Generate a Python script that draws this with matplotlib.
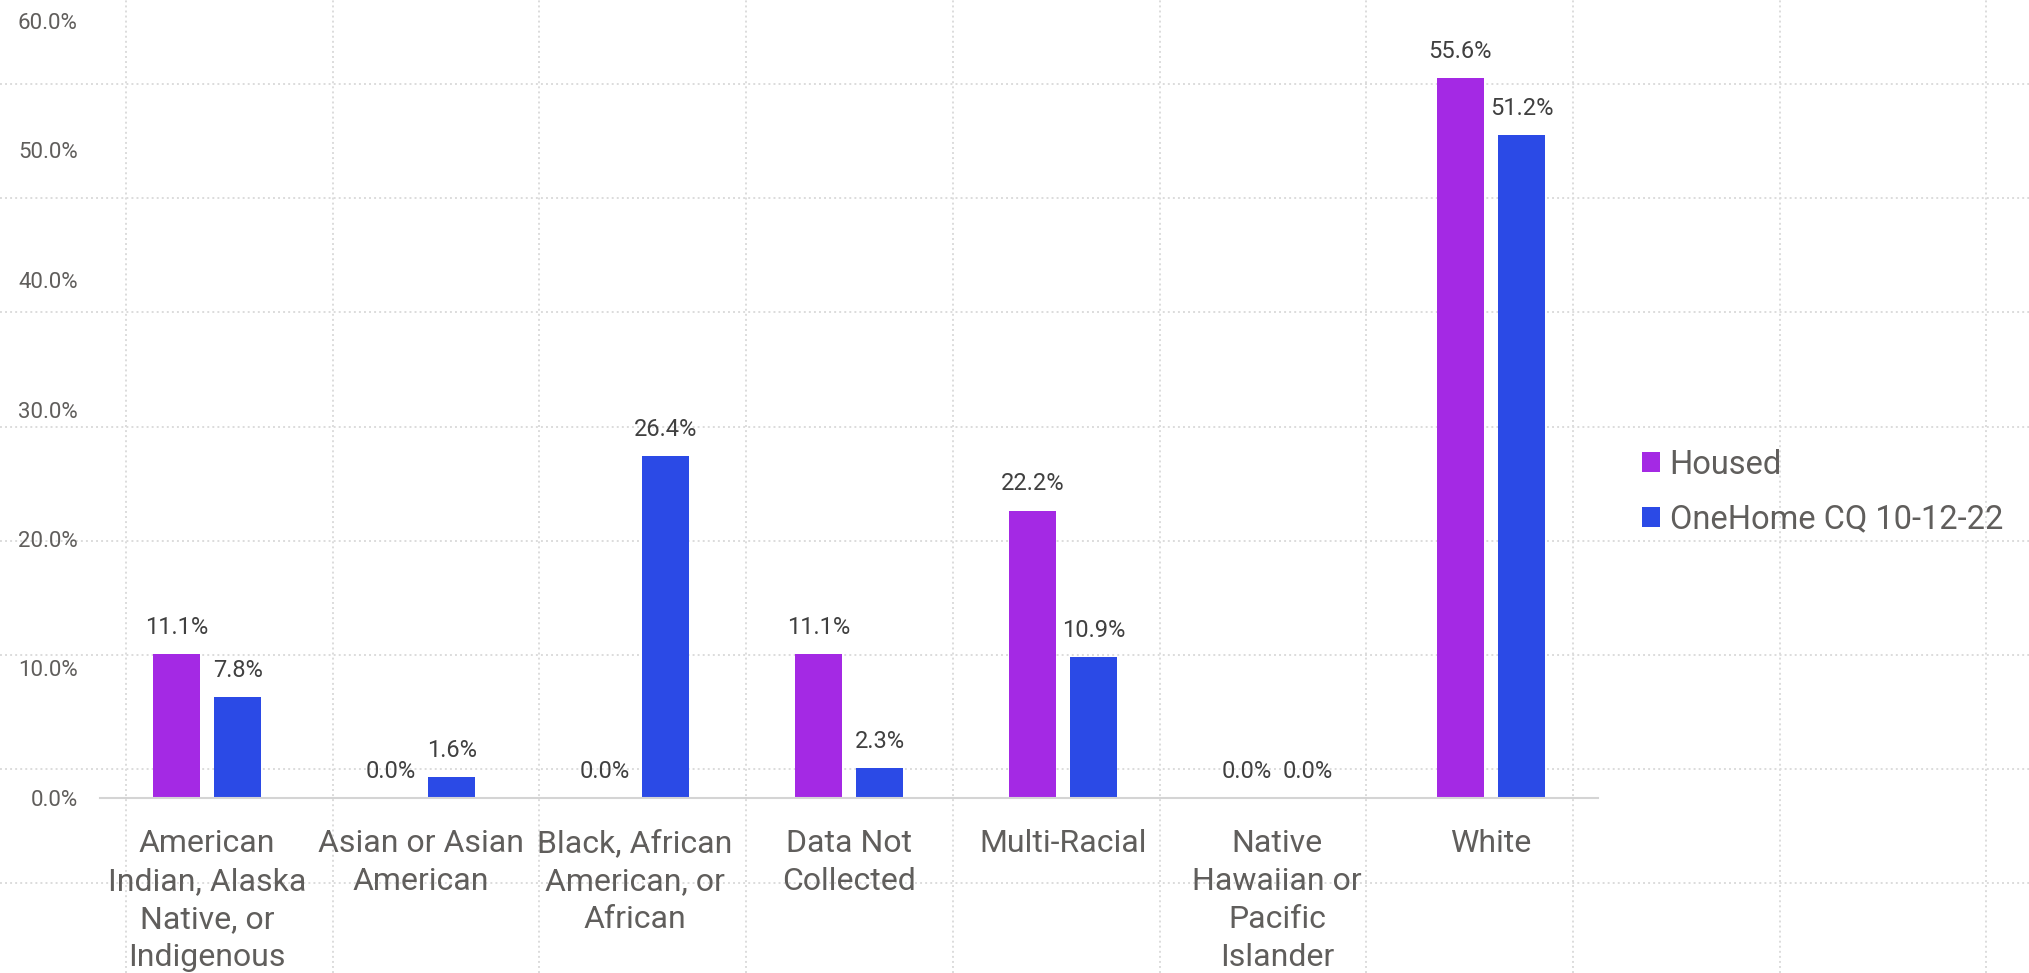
#!/usr/bin/env python3
"""
Housed vs OneHome CQ race breakdown - grouped bar chart
"""

import matplotlib
matplotlib.use("Agg")
import matplotlib.pyplot as plt
import numpy as np

# Data
categories = [
    "American\nIndian, Alaska\nNative, or\nIndigenous",
    "Asian or Asian\nAmerican",
    "Black, African\nAmerican, or\nAfrican",
    "Data Not\nCollected",
    "Multi-Racial",
    "Native\nHawaiian or\nPacific\nIslander",
    "White",
]
series_names = ["Housed", "OneHome CQ 10-12-22"]
housed = [11.1, 0.0, 0.0, 11.1, 22.2, 0.0, 55.6]
onehome = [7.8, 1.6, 26.4, 2.3, 10.9, 0.0, 51.2]
y_ticks = [0, 10, 20, 30, 40, 50, 60]

COLORS = {
    'housed': '#A429E4',
    'onehome': '#2B4AE6',
    'text': '#605E5C',
    'label': '#404040',
    'grid': '#DCDCDC',
    'base': '#D4D4D4',
}

W, H = 2029, 973
plt.rcParams['font.family'] = ['Roboto', 'DejaVu Sans']

fig = plt.figure(figsize=(W / 100, H / 100), dpi=100)
fig.patch.set_facecolor('white')

# Canvas dotted grid in the background (pixel coordinates)
bg = fig.add_axes([0, 0, 1, 1], zorder=0)
bg.set_xlim(0, W)
bg.set_ylim(H, 0)
bg.axis('off')
for gx in np.arange(126, W, 206.7):
    bg.axvline(gx, color=COLORS['grid'], lw=1.4, ls=(0, (1, 1.6)))
for gy in np.arange(84, H, 114.2):
    bg.axhline(gy, color=COLORS['grid'], lw=1.4, ls=(0, (1, 1.6)))

# Chart axes
left, right = 100 / W, 1598 / W
bottom, top = 1 - 798 / H, 1 - 21 / H
ax = fig.add_axes([left, bottom, right - left, top - bottom], zorder=1)
ax.patch.set_alpha(0)

x = np.arange(len(categories))
width = 0.22
offset = 0.143

b1 = ax.bar(x - offset, housed, width, color=COLORS['housed'], label=series_names[0], zorder=2)
b2 = ax.bar(x + offset, onehome, width, color=COLORS['onehome'], label=series_names[1], zorder=2)

for bars in (b1, b2):
    ax.bar_label(bars, labels=[f'{v:.1f}%' for v in bars.datavalues],
                 padding=11, fontsize=17, color=COLORS['label'])

ax.set_xlim(-0.5, len(categories) - 0.5)
ax.set_ylim(0, 60)
ax.set_yticks(y_ticks)
ax.set_yticklabels([f'{v:.1f}%' for v in y_ticks])
ax.set_xticks(x)
ax.set_xticklabels(categories, fontsize=23, color=COLORS['text'], linespacing=1.39, va='top')
ax.tick_params(axis='y', length=0, pad=16, labelsize=16, labelcolor=COLORS['text'])
ax.tick_params(axis='x', length=0, pad=22.5)

for side in ['top', 'right', 'left']:
    ax.spines[side].set_visible(False)
ax.spines['bottom'].set_color(COLORS['base'])
ax.spines['bottom'].set_linewidth(1.5)

fig.legend(handles=[b1, b2], loc='center left',
           bbox_to_anchor=(1642 / W, 1 - 492 / H),
           frameon=False, fontsize=23.5, labelcolor=COLORS['text'],
           handlelength=0.55, handleheight=0.55, handletextpad=0.3,
           labelspacing=0.7, borderpad=0, borderaxespad=0)

plt.savefig('out.png', dpi=100, facecolor='white')
plt.close()
